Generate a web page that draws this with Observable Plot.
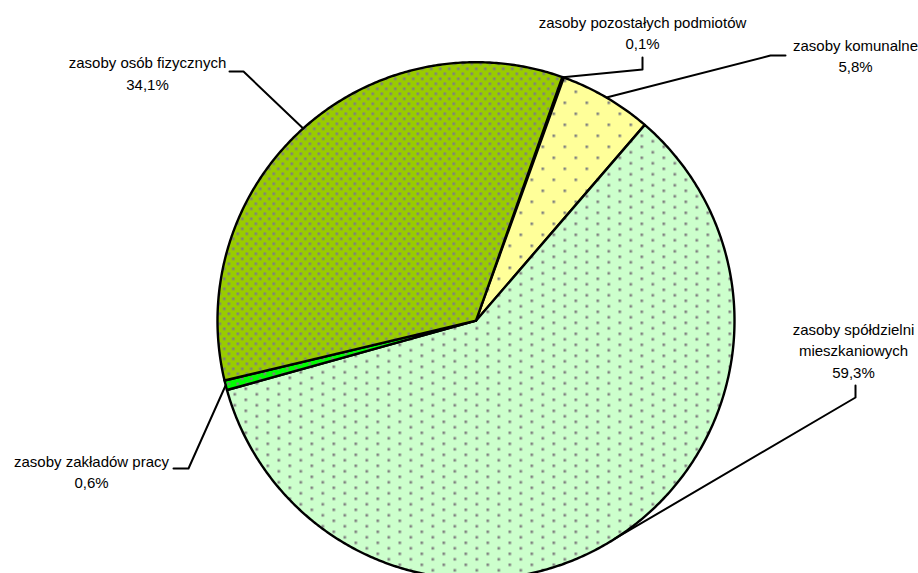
<!DOCTYPE html>
<html><head><meta charset="utf-8">
<script src="https://cdn.jsdelivr.net/npm/d3@7"></script>
<script src="https://cdn.jsdelivr.net/npm/@observablehq/plot@0.6"></script>
<style>html,body{margin:0;padding:0;background:#fff}#chart svg{display:block}</style>
</head><body><div id="chart"></div>
<script>
// ---- data (clockwise order from the first slice) ----
const categories = ["zasoby pozostałych podmiotów", "zasoby komunalne", "zasoby spółdzielni mieszkaniowych", "zasoby zakładów pracy", "zasoby osób fizycznych"];
const values = [0.1, 5.8, 59.3, 0.6, 34.1];
const labelTexts = ["zasoby pozostałych podmiotów", "zasoby komunalne", "zasoby spółdzielni\nmieszkaniowych", "zasoby zakładów pracy", "zasoby osób fizycznych"];

// ---- layout / style ----
const W = 918, H = 573;
const CX = 475.5, CY = 320.2, R = 258.5;
const START_DEG = 19.5;
const fills = ["#FFFF99", "#FFFF99", "#CCFFCC", "#00FF00", "#99CC00"];
const patternKind = ["p5", "p5", "p10", "p20", "p20"];
// label block centre, leader elbow and leader end (pixels)
const labelLayout = [
  {x: 642, y: 31, elbow: [642, 69], end: [642, 57]},
  {x: 855, y: 54, elbow: [770, 55], end: [785, 55]},
  {x: 853, y: 349, elbow: [855, 397], end: [855, 385]},
  {x: 91, y: 470, elbow: [188, 468], end: [173, 468]},
  {x: 147, y: 71.5, elbow: [243, 71], end: [229, 71]}
];

const fmt = v => v.toFixed(1).replace(".", ",") + "%";
const rad = d => d * Math.PI / 180;
const pt = a => [CX + R * Math.sin(a), CY - R * Math.cos(a)];

const arcs = d3.pie().sort(null).value(d => d)
  .startAngle(rad(START_DEG)).endAngle(rad(START_DEG) + 2 * Math.PI)(values);

const slices = arcs.map((a, i) => {
  const pts = [{x: CX, y: CY}];
  const n = Math.max(2, Math.ceil((a.endAngle - a.startAngle) / rad(0.5)));
  for (let k = 0; k <= n; k++) {
    const [x, y] = pt(a.startAngle + (a.endAngle - a.startAngle) * k / n);
    pts.push({x, y});
  }
  pts.push({x: CX, y: CY});
  return pts;
});

const leaders = arcs.map((a, i) => {
  const [ax, ay] = pt((a.startAngle + a.endAngle) / 2);
  const L = labelLayout[i];
  return [{x: ax, y: ay}, {x: L.elbow[0], y: L.elbow[1]}, {x: L.end[0], y: L.end[1]}];
});

const labels = categories.map((c, i) => ({
  x: labelLayout[i].x, y: labelLayout[i].y,
  text: labelTexts[i] + "\n" + fmt(values[i])
}));

const marks = [];
slices.forEach((pts, i) => {
  marks.push(Plot.line(pts, {x: "x", y: "y", curve: "linear", fill: `url(#pat${i})`, stroke: "#000", strokeWidth: 2.4, strokeLinejoin: "round"}));
});
leaders.forEach(pts => {
  marks.push(Plot.line(pts, {x: "x", y: "y", curve: "linear", stroke: "#000", strokeWidth: 2}));
});
marks.push(Plot.text(labels, {x: "x", y: "y", text: "text", fontSize: 15, lineHeight: 1.45, textAnchor: "middle", lineAnchor: "middle", fill: "#000", fontFamily: "'Liberation Sans', Arial, sans-serif"}));

const chart = Plot.plot({
  width: W, height: H, margin: 0,
  x: {domain: [0, W], range: [0, W], axis: null},
  y: {domain: [0, H], range: [0, H], axis: null},
  style: {background: "#fff", fontFamily: "'Liberation Sans', Arial, sans-serif"},
  marks
});

// patterns
const svg = d3.select(chart);
const defs = svg.insert("defs", ":first-child");
const patSpec = {
  p5: {w: 22, h: 22, dots: [[0, 0], [11, 11]]},
  p10: {w: 22, h: 11, dots: [[0, 0], [11, 5.5]]},
  p20: {w: 9, h: 10, dots: [[0, 0], [4.5, 5]]}
};
fills.forEach((f, i) => {
  const s = patSpec[patternKind[i]];
  const p = defs.append("pattern").attr("id", `pat${i}`).attr("patternUnits", "userSpaceOnUse")
    .attr("width", s.w).attr("height", s.h).attr("x", 2).attr("y", 2);
  p.append("rect").attr("width", s.w).attr("height", s.h).attr("fill", f);
  s.dots.forEach(([dx, dy]) => p.append("rect").attr("x", dx).attr("y", dy).attr("width", 2.6).attr("height", 2.6).attr("fill", "#808080"));
});

document.getElementById("chart").appendChild(chart);
</script>
</body></html>
